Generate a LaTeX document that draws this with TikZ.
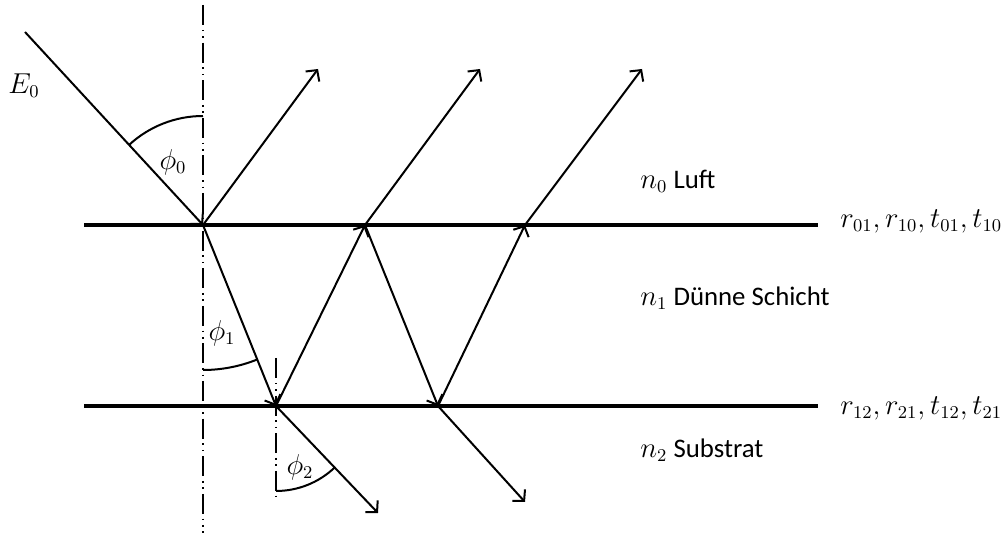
\documentclass[tikz,border=0pt]{standalone}
\usepackage{fontspec}
\setmainfont{Carlito}
\usetikzlibrary{arrows.meta, calc}

\begin{document}
\begin{tikzpicture}[x=0.5pt, y=0.5pt, line join=round,
    ray/.style={line width=1pt, -{Straight Barb[length=4pt,width=8.5pt,line width=1pt]}},
    layer/.style={line width=2.3pt},
    normal/.style={line width=1pt, dash pattern=on 10pt off 2.4pt on 0.8pt off 2.4pt on 0.8pt off 2.4pt},
    lbl/.style={inner sep=0pt, font=\fontsize{13.4}{15}\selectfont}]
      \useasboundingbox (0,0) rectangle (1008,536);
      % points on the two interfaces
      \coordinate (P1) at (203,311);
      \coordinate (P2) at (276,130);
      \coordinate (P3) at (365,311);
      \coordinate (P4) at (438,130);
      \coordinate (P5) at (525,311);
      \coordinate (S) at (25,504);
      \coordinate (R1) at (318,467);
      \coordinate (R2) at (480,467);
      \coordinate (R3) at (642,467);
      \coordinate (T1) at (378,23);
      \coordinate (T2) at (525,34);
      % interfaces
      \draw[layer] (84,311) coordinate (L1) -- (818,311) coordinate (L1e);
      \draw[layer] (84,130) coordinate (L2) -- (818,130) coordinate (L2e);
      % normals
      \draw[normal] (203,531) -- (203,3);
      \draw[normal] (276,178) -- (276,36);
      % rays
      \draw[ray] (S) -- (P1);
      \draw[ray] (P1) -- (R1);
      \draw[ray] (P1) -- (P2);
      \draw[ray] (P2) -- (P3);
      \draw[ray] (P2) -- (T1);
      \draw[ray] (P3) -- (R2);
      \draw[ray] (P3) -- (P4);
      \draw[ray] (P4) -- (P5);
      \draw[ray] (P4) -- (T2);
      \draw[ray] (P5) -- (R3);
      % angles
      \draw[line width=1pt] (P1) ++(90:109) arc[start angle=90, end angle=132.7, radius=109];
      \draw[line width=1pt] (P1) ++(270:145) arc[start angle=270, end angle=292, radius=145];
      \draw[line width=1pt] (P2) ++(270:85) arc[start angle=270, end angle=313.6, radius=85];
      % labels
      \node[lbl] (e0) at (24,450) {\(E_0\)};
      \node[lbl] (phi0) at (173,374) {\(\phi_0\)};
      \node[lbl] (phi1) at (222,203) {\(\phi_1\)};
      \node[lbl] (phi2) at (300,69) {\(\phi_2\)};
      \node[lbl, anchor=west] (luft) at (640,355) {\(n_0\) Luft};
      \node[lbl, anchor=west] (schicht) at (640,238) {\(n_1\) Dünne Schicht};
      \node[lbl, anchor=west] (substrat) at (640,86) {\(n_2\) Substrat};
      \node[lbl, anchor=west] (koeff1) at (840,315) {\(r_{01}, r_{10}, t_{01}, t_{10}\)};
      \node[lbl, anchor=west] (koeff2) at (840,128) {\(r_{12}, r_{21}, t_{12}, t_{21}\)};
    \end{tikzpicture}
\end{document}
